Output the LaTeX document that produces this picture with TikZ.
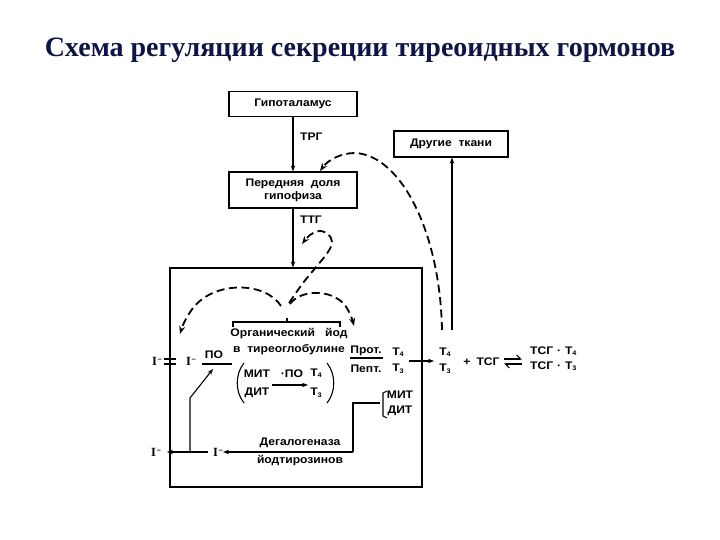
\documentclass[tikz,border=0pt]{standalone}
\usepackage{fontspec}
\setmainfont{Liberation Sans}
\newfontfamily\dg[FakeStretch=1.1]{Liberation Sans}
\newfontfamily\ttl{Liberation Serif}
\usetikzlibrary{arrows.meta}
\definecolor{navy}{RGB}{14,20,70}
\newcommand\Tx[1]{T\kern-0.3pt\raisebox{-1.5pt}{\scalebox{0.6}{#1}}}
\newcommand\Iminus{{\ttl\fontsize{12.5}{13}\selectfont I}\kern0.5pt\raisebox{4pt}{\fontsize{7}{7}\selectfont –}}
\newcommand\dotc{\kern4pt\textperiodcentered\kern4pt}
\begin{document}
\begin{tikzpicture}[x=1pt,y=-1pt,
  box/.style={draw, line width=1.1pt, inner sep=0, align=center, font=\dg\bfseries\fontsize{11}{13}\selectfont},
  lbl/.style={inner sep=0, font=\dg\bfseries\fontsize{11}{13}\selectfont},
  arr/.style={line width=1.1pt, -{Stealth[length=6pt,width=4.5pt]}},
  dsh/.style={line width=1.8pt, dash pattern=on 8pt off 4.5pt, -{Stealth[length=8pt,width=6pt]}},
  ln/.style={line width=1.1pt}]
\useasboundingbox (0,0) rectangle (720,540);
% title
\node[inner sep=0, text=navy, font=\ttl\bfseries\fontsize{28}{31}\selectfont] (title) at (360,50) {Схема регуляции секреции тиреоидных гормонов};
% boxes
\node[box, minimum width=128pt, minimum height=25pt] (hyp) at (293,104) {Гипоталамус};
\node[box, minimum width=128pt, minimum height=36pt] (ant) at (293,190) {Передняя\ \ доля\\гипофиза};
\node[box, minimum width=114pt, minimum height=26pt] (oth) at (451,144) {Другие\ \ ткани};
\node[draw, line width=1.1pt, minimum width=252pt, minimum height=219pt, inner sep=0] (cell) at (296,377.5) {};
% top arrows
\draw[arr] (hyp.south) -- (ant.north);
\node[lbl, anchor=west] (trg) at (300,137) {ТРГ};
\draw[arr] (ant.south) -- (ant.south |- cell.north);
\node[lbl, anchor=west] (ttg) at (300,220) {ТТГ};
% bracket
\coordinate (br) at (287,322);
\draw[ln] (233,327) -- (233,322) -- (340,322) -- (340,327);
\draw[ln] (br) -- (287,318);
\node[lbl] (org) at (289,334) {Органический\ \ \ йод};
\node[lbl] (tg) at (289,350) {в\ \ тиреоглобулине};
% iodide top
\node[lbl] (i1) at (157,361) {\Iminus};
\node[lbl] (i2) at (191,361) {\Iminus};
\draw[ln] (164,359) -- (176,359);
\draw[ln] (164,364) -- (176,364);
\node[lbl] (po) at (214,355) {ПО};
\draw[ln] (202,364) -- (232,364);
% MIT DIT
\node[lbl] (mit) at (257,374) {МИТ};
\node[lbl] (dit) at (257,393) {ДИТ};
\node[lbl] (po2) at (292,374) {\textperiodcentered ПО};
\node[lbl] (t4a) at (316,373) {\Tx4};
\node[lbl] (t3a) at (316,393) {\Tx3};
\draw[arr] (272,385) -- (308,385);
\draw[ln] (244,363) .. controls (235,374) and (235,392) .. (244,403);
\draw[ln] (327,363) .. controls (336,374) and (336,392) .. (327,403);
% Prot / Pept
\node[lbl] (prot) at (366,351) {Прот.};
\draw[ln] (350,358) -- (383,358);
\node[lbl] (pept) at (366,369) {Пепт.};
\node[lbl] (t4b) at (398,352) {\Tx4};
\node[lbl] (t3b) at (398,369) {\Tx3};
\draw[arr] (409,361) -- (434,361);
\node[lbl] (t4c) at (445,352) {\Tx4};
\node[lbl] (t3c) at (445,369) {\Tx3};
\node[lbl] (plus) at (467,362) {+};
\node[lbl] (tsg) at (488,362) {ТСГ};
\draw[ln, -{Straight Barb[left,length=4pt]}] (504,359) -- (522,359);
\draw[ln, -{Straight Barb[left,length=4pt]}] (522,364) -- (504,364);
\node[lbl, anchor=west] (tsg4) at (530,351) {ТСГ\dotc\Tx4};
\node[lbl, anchor=west] (tsg3) at (530,366) {ТСГ\dotc\Tx3};
% to other tissues
\coordinate (up) at (452,330);
\draw[arr] (up) -- (up |- oth.south);
% dashed feedback to pituitary
\coordinate (fb0) at (442,330);
\coordinate (fb1) at (320,171);
\draw[dsh] (fb0) .. controls (440,230) and (400,155) .. (355,153) .. controls (341,153) and (328,160) .. (fb1);
% small loop
\coordinate (sp) at (289,303);
\draw[dsh] plot[smooth, tension=0.6] coordinates {(sp) (303,283) (317,266) (328,252) (332,242) (328,234) (319,231) (310,235) (302,244)};
% left and right arcs
\coordinate (la) at (180,334);
\coordinate (ra) at (354,326);
\draw[dsh] (281,306) .. controls (266,282) and (215,280) .. (193,308) .. controls (187,316) and (183,324) .. (la);
\draw[dsh] (290,304) .. controls (300,290) and (330,288) .. (345,305) .. controls (349,311) and (352,318) .. (ra);
% bottom
\node[lbl] (i3) at (156,452) {\Iminus};
\node[lbl] (i4) at (218,452) {\Iminus};
\draw[arr] (208,452) -- (167,452);
\draw[arr] (190,452) -- (190,398) -- (213,369);
\node[lbl] (deg) at (300,443) {Дегалогеназа};
\node[lbl] (jod) at (300,461) {йодтирозинов};
\coordinate (dj) at (353,452);
\draw[arr] (dj) -- (i4.east);
\draw[ln] (dj) -- (353,403) -- (380,403);
\draw[ln] (387,391) -- (383,393) -- (383,416) -- (387,418);
\node[lbl] (mit2) at (400,395) {МИТ};
\node[lbl] (dit2) at (400,411) {ДИТ};
\end{tikzpicture}
\end{document}
